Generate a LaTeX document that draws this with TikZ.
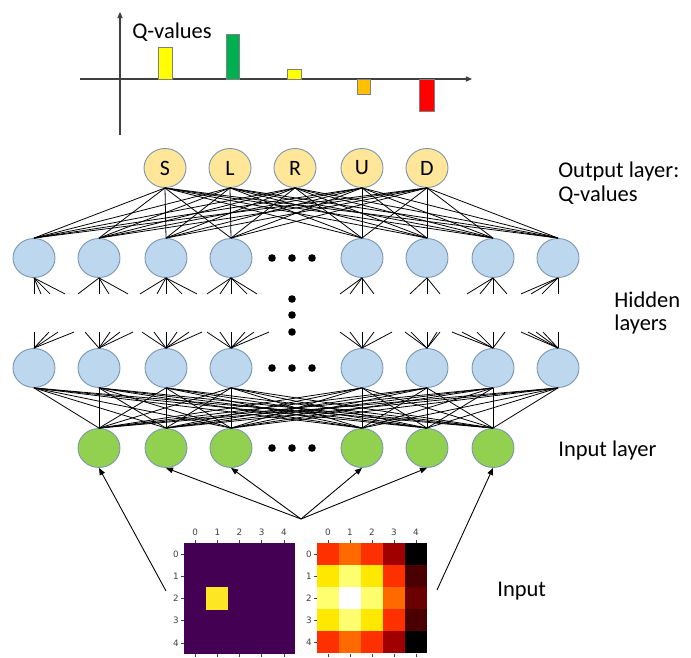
\documentclass[tikz,border=0pt]{standalone}
\usepackage{fontspec}
\setmainfont{Carlito}
\newfontfamily\tickfont{DejaVu Sans}
\usetikzlibrary{shapes.geometric,arrows.meta}

\definecolor{outfill}{HTML}{FFE699}
\definecolor{hidfill}{HTML}{BDD7EE}
\definecolor{infill}{HTML}{92D050}
\definecolor{rim}{HTML}{7895B2}
\definecolor{axisgray}{HTML}{404040}
\definecolor{qyellow}{HTML}{FFFF00}
\definecolor{qgreen}{HTML}{00B050}
\definecolor{qorange}{HTML}{FFC000}
\definecolor{qred}{HTML}{FF0000}
\definecolor{vdark}{HTML}{440154}
\definecolor{vyellow}{HTML}{FDE725}
\definecolor{hred}{HTML}{FF3000}
\definecolor{horange}{HTML}{FF6A00}
\definecolor{hmaroon}{HTML}{A00000}
\definecolor{hblack}{HTML}{000000}
\definecolor{hyellow}{HTML}{FFE800}
\definecolor{hpale}{HTML}{FFFF70}
\definecolor{hwhite}{HTML}{FFFFFF}
\definecolor{hdeep}{HTML}{4A0000}
\definecolor{hbrown}{HTML}{6A0000}

\tikzset{
  neuron/.style={ellipse, draw=rim, line width=0.5pt, minimum width=0.84cm, minimum height=0.78cm, inner sep=0pt},
  outn/.style={neuron, fill=outfill, font=\fontsize{12.5}{12.5}\selectfont},
  hidn/.style={neuron, fill=hidfill},
  inn/.style={neuron, fill=infill},
  wire/.style={line width=0.45pt},
  feed/.style={line width=0.5pt, -{Triangle[length=4pt,width=3.2pt]}},
  axisline/.style={draw=axisgray, line width=0.6pt, -{Triangle[length=3.5pt,width=3pt]}},
  bar/.style={draw=gray, line width=0.4pt},
  lbl/.style={anchor=base west, inner sep=0pt, font=\fontsize{12.8}{14}\selectfont},
  ticklbl/.style={inner sep=0pt, font=\tickfont\fontsize{5}{5}\selectfont, text=black!75},
}

\begin{document}
\begin{tikzpicture}[x=0.02cm, y=-0.02cm]
\useasboundingbox (0,0) rectangle (691,658);

\draw[axisline] (120,135) -- (120,12);
\draw[axisline] (80,79) -- (472,79);
\draw[bar, fill=qyellow] (158,47) rectangle (172,79);
\draw[bar, fill=qgreen] (226,34) rectangle (239,79);
\draw[bar, fill=qyellow] (287,69) rectangle (301,79);
\draw[bar, fill=qorange] (357,79) rectangle (370,94);
\draw[bar, fill=qred] (419,79) rectangle (434,111);
\node[lbl] (qlbl) at (132,39) {Q-values};

\foreach \n/\t/\x in {1/S/165, 2/L/230, 3/R/295, 4/U/362, 5/D/427}
  \node[outn] (o\n) at (\x,168) {\t};
\foreach \n/\x in {1/34, 2/99, 3/166, 4/231, 5/362, 6/427, 7/493, 8/558}
{
  \node[hidn] (t\n) at (\x,258) {};
  \node[hidn] (b\n) at (\x,368) {};
}
\foreach \n/\x in {1/99, 2/166, 3/231, 4/362, 5/427, 6/493}
  \node[inn] (g\n) at (\x,448) {};

\foreach \i in {1,...,5}
  \foreach \j in {1,...,8}
    \draw[wire] (o\i.south) -- (t\j.north);
\foreach \i in {1,...,8}
  \foreach \j in {1,...,6}
    \draw[wire] (b\i.south) -- (g\j.north);

\foreach \n/\offs in {1/{0,7,16,31}, 2/{-21,0,10,29}, 3/{-26,-9,0,16,31}, 4/{-24,-11,0,16,26},
                      5/{-22,-12,0,12}, 6/{-17,0,13}, 7/{-26,-13,0,14}, 8/{-37,-27,-16,0}}
  \foreach \d in \offs
    \draw[wire] (t\n.south) -- ++(\d,16);
\foreach \n/\offs in {1/{0,15,24,40}, 2/{-14,0,11,21,34}, 3/{-24,-12,0,11,23,36}, 4/{-24,-11,0,14,23,38},
                      5/{-22,-12,0,12,30}, 6/{-22,-16,0,10,13}, 7/{-41,-31,-16,0,12}, 8/{-37,-30,-22,-15,0}}
  \foreach \d in \offs
    \draw[wire] (b\n.north) -- ++(\d,-16);

\foreach \y in {258,368,448}
  \foreach \x in {272,292,312}
    \fill (\x,\y) circle (3.8);
\foreach \y in {299,315,332}
  \fill (292,\y) circle (3.8);

\node[lbl] (outlbl) at (558,178) {Output layer:};
\node[lbl] (qvlbl) at (558,202) {Q-values};
\node[lbl] (hidlbl) at (614,308) {Hidden};
\node[lbl] (laylbl) at (614,331) {layers};
\node[lbl] (inlbl) at (558,457) {Input layer};
\node[lbl] (inputlbl) at (497,597) {Input};

\fill[vdark] (184,543) rectangle (295,654);
\fill[vyellow] (206.2,587.4) rectangle (228.4,609.6);
\foreach \r/\cols in {0/{hred,horange,hred,hmaroon,hblack}, 1/{hyellow,hpale,hyellow,hred,hdeep},
                      2/{hpale,hwhite,hpale,horange,hbrown}, 3/{hyellow,hpale,hyellow,hred,hdeep},
                      4/{hred,horange,hred,hmaroon,hblack}}
  \foreach \c [count=\k from 0] in \cols
    \fill[\c] (317+22*\k,543+22*\r) rectangle ++(22,22);
\foreach \x/\w in {184/22.2, 317/22}
  \foreach \k in {0,...,4}
  {
    \draw[black!75, line width=0.3pt] (\x+\w/2+\w*\k,543) -- ++(0,-3);
    \draw[black!75, line width=0.3pt] (\x+\w/2+\w*\k,654) -- ++(0,3);
    \draw[black!75, line width=0.3pt] (\x,543+\w/2+\w*\k) -- ++(-3,0);
    \node[ticklbl] at (\x+\w/2+\w*\k,532) {\k};
    \node[ticklbl, anchor=east] at (\x-5,543+\w/2+\w*\k) {\k};
  }

\coordinate (srcL) at (166,591);
\coordinate (srcM) at (301,519);
\coordinate (srcR) at (437,590);
\draw[feed] (srcL) -- (g1.south);
\foreach \n in {2,3,4,5}
  \draw[feed] (srcM) -- (g\n.south);
\draw[feed] (srcR) -- (g6.south);
\end{tikzpicture}
\end{document}
